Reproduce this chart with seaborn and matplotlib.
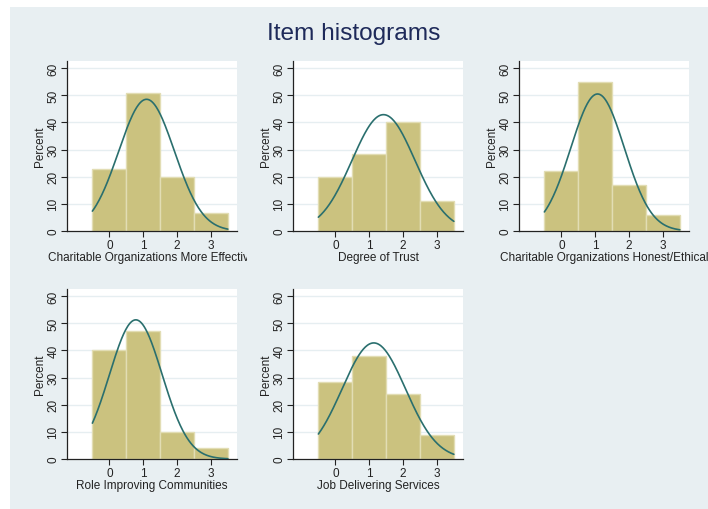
import numpy as np
import pandas as pd
import seaborn as sns
import matplotlib
matplotlib.use("Agg")
import matplotlib.pyplot as plt
from matplotlib.patches import Rectangle
from matplotlib.transforms import Bbox, TransformedBbox

# Response categories shared by every item
categories = [0, 1, 2, 3]

# Percent of respondents per category, one list per item
pct_more_effective = [23.0, 51.0, 20.0, 6.5]
pct_trust = [20.0, 28.5, 40.0, 11.0]
pct_honest = [22.0, 55.0, 17.0, 6.0]
pct_communities = [40.0, 47.0, 10.0, 4.0]
pct_services = [28.5, 38.0, 24.0, 9.0]

item_labels = [
    "Charitable Organizations More Effective",
    "Degree of Trust",
    "Charitable Organizations Honest/Ethical",
    "Role Improving Communities",
    "Job Delivering Services",
]
item_values = [pct_more_effective, pct_trust, pct_honest,
               pct_communities, pct_services]

y_ticks = [0, 10, 20, 30, 40, 50, 60]
x_ticks = [0, 1, 2, 3]

sns.set_theme(style="white")
plt.rcParams["font.family"] = ["Liberation Sans", "DejaVu Sans"]

W, H = 708, 510
fig = plt.figure(figsize=(W / 100, H / 100), dpi=100)
fig.patch.set_facecolor("white")

BG = "#e8eff2"
fig.patches.append(Rectangle((10 / W, 0), 1 - 10 / W, 1 - 8 / H,
                             transform=fig.transFigure, facecolor=BG,
                             edgecolor="none", zorder=-10))

fig.text(0.5, 1 - 34 / H, "Item histograms", ha="center", va="center",
         fontsize=17.6, color="#1e2a5a")

BAR = "#cbc27f"
BAR_EDGE = "#e2ddb4"
CURVE = "#2a6f6e"
INK = "#222222"

# plot-region boxes in pixels: left, top, width, height
panels = [(67, 62, 170, 170), (293, 62, 170, 170), (519, 62, 170, 170),
          (67, 290, 170, 170), (293, 290, 170, 170)]
# cell extents used to clip long axis titles
cells = [(10, 247), (247, 477), (477, 708), (10, 247), (247, 477)]

for (px, py, pw, ph), (cx0, cx1), label, vals in zip(panels, cells,
                                                    item_labels, item_values):
    ax = fig.add_axes([px / W, 1 - (py + ph) / H, pw / W, ph / H])
    ax.set_facecolor("white")
    df = pd.DataFrame({"value": categories, "pct": vals})
    sns.histplot(data=df, x="value", weights="pct", discrete=True, shrink=1,
                 stat="count", color=BAR, alpha=1, edgecolor=BAR_EDGE,
                 linewidth=1, ax=ax, zorder=2)

    # normal density fitted to the item distribution, scaled to percent
    v = np.asarray(categories, float)
    p = np.asarray(vals, float)
    w = p / p.sum()
    mu = (v * w).sum()
    sd = np.sqrt(((v - mu) ** 2 * w).sum())
    grid = np.linspace(-0.5, 3.5, 200)
    dens = 100 * np.exp(-0.5 * ((grid - mu) / sd) ** 2) / (sd * np.sqrt(2 * np.pi))
    sns.lineplot(x=grid, y=dens, color=CURVE, linewidth=1.2, ax=ax, zorder=3)

    ax.set_xlim(-1.25, 3.77)
    ax.set_ylim(0, 62.6)
    ax.set_yticks(y_ticks)
    ax.set_xticks(x_ticks)
    ax.set_yticklabels([str(t) for t in y_ticks], rotation=90, va="center",
                       fontsize=8.5, color=INK)
    ax.set_xticklabels([str(t) for t in x_ticks], fontsize=8.5, color=INK)
    ax.tick_params(axis="both", direction="out", length=4, width=0.8,
                   color=INK, pad=1.5, left=True, bottom=True)
    for t in y_ticks[1:]:
        ax.axhline(t, color="#e6eef1", linewidth=1, zorder=1)
    for side in ("top", "right"):
        ax.spines[side].set_visible(False)
    for side in ("left", "bottom"):
        ax.spines[side].set_color(INK)
        ax.spines[side].set_linewidth(0.9)
    ax.set_ylabel("Percent", fontsize=8.5, color=INK, labelpad=1)
    ax.set_xlabel(label, fontsize=8.5, color=INK, labelpad=0)
    xl = ax.xaxis.label
    xl.set_clip_box(TransformedBbox(
        Bbox.from_extents(cx0 / W, 0, cx1 / W, 1), fig.transFigure))
    xl.set_clip_on(True)

fig.savefig("out.png", dpi=100, facecolor="white")
